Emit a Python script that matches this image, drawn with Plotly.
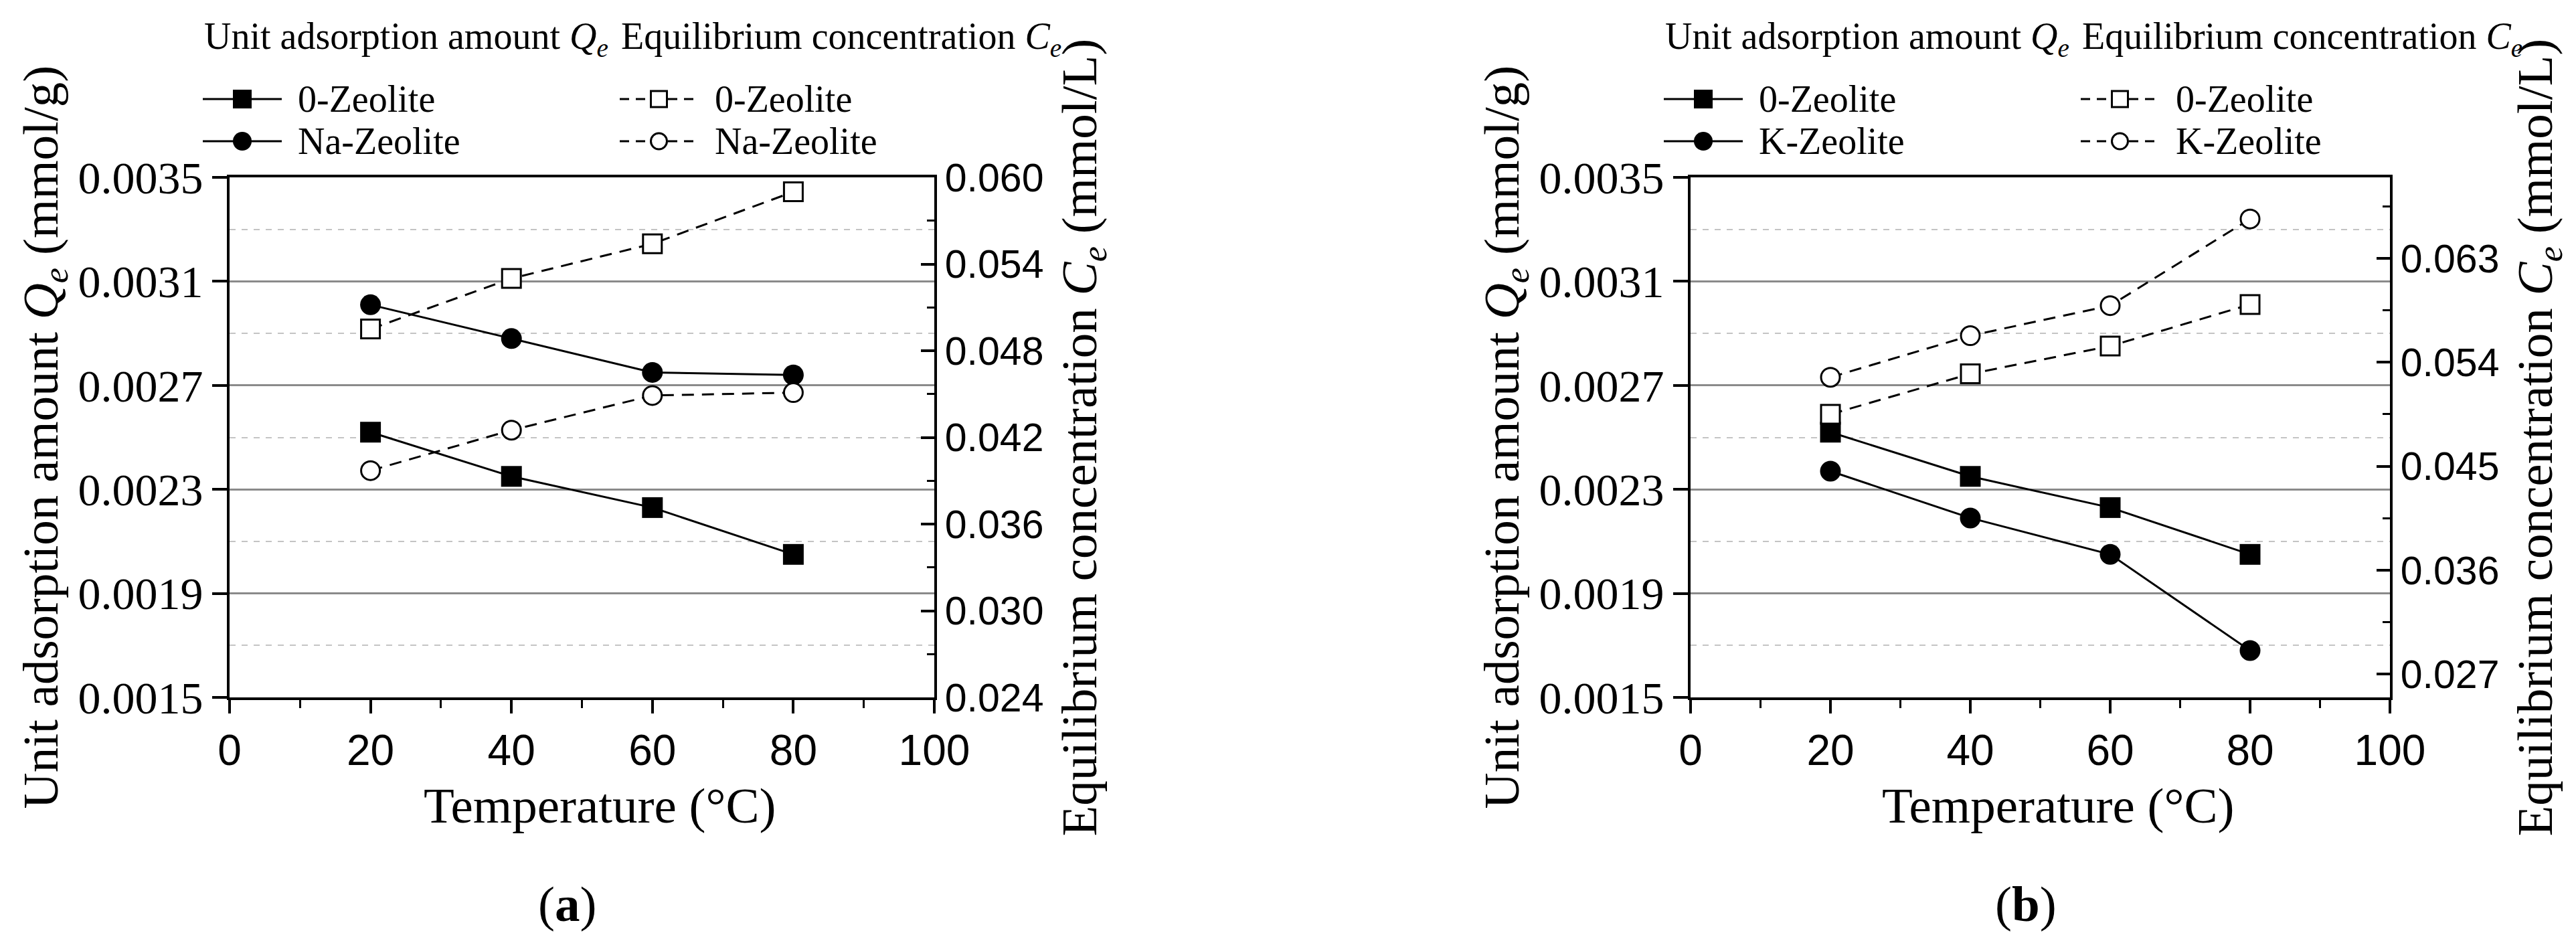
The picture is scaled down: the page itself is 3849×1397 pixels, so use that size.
import plotly.graph_objects as go

W, H = 3849, 1397

# shared x values
temperature = [20, 40, 60, 80]

# panel (a): 0-Zeolite vs Na-Zeolite
qe_zeolite0 = [0.00252, 0.00235, 0.00223, 0.00205]
qe_na = [0.00301, 0.00288, 0.00275, 0.00274]
ce_zeolite0 = [0.0495, 0.0530, 0.0554, 0.0590]
ce_na = [0.0397, 0.0425, 0.0449, 0.0451]

# panel (b): 0-Zeolite vs K-Zeolite
qe_k = [0.00237, 0.00219, 0.00205, 0.00168]
ce_k = [0.0527, 0.0563, 0.0589, 0.0664]

x_ticks = [0, 20, 40, 60, 80, 100]
qe_ticks = [0.0015, 0.0019, 0.0023, 0.0027, 0.0031, 0.0035]
ce_ticks_a = [0.024, 0.030, 0.036, 0.042, 0.048, 0.054, 0.060]
ce_ticks_b = [0.027, 0.036, 0.045, 0.054, 0.063]

SERIF = "Liberation Serif"
SANS = "Liberation Sans"

PLOT_TOP, PLOT_BOTTOM = 257, 1034


def px(x):
    return x / W


def py(y):
    return 1 - y / H


def x_axis(left, right):
    return dict(
        domain=[px(left), px(right)], range=[0, 100], automargin=False,
        tickmode="array", tickvals=x_ticks,
        ticks="outside", ticklen=20, tickwidth=4, tickcolor="black",
        showline=True, linewidth=4, linecolor="black", mirror=True,
        showgrid=False, zeroline=False,
        tickfont=dict(family=SANS, size=64, color="black"),
        minor=dict(tickmode="linear", tick0=0, dtick=10, ticks="outside",
                   ticklen=12, tickwidth=3, tickcolor="black"),
    )


def qe_axis(anchor):
    return dict(
        domain=[py(PLOT_BOTTOM), py(PLOT_TOP)], anchor=anchor, automargin=False,
        range=[0.0015, 0.0035], tickmode="array", tickvals=qe_ticks,
        tickformat=".4f",
        ticks="outside", ticklen=22, tickwidth=4, tickcolor="black",
        showline=True, linewidth=4, linecolor="black", mirror=True,
        showgrid=True, gridcolor="#8a8a8a", gridwidth=2.5, zeroline=False,
        tickfont=dict(family=SERIF, size=68, color="black"),
        minor=dict(tickmode="linear", tick0=0.0017, dtick=0.0004, ticks="",
                   showgrid=True, gridcolor="#c4c4c4", gridwidth=2, griddash="dash"),
    )


def ce_axis(overlay, anchor, rng, vals, minor0, step):
    return dict(
        overlaying=overlay, anchor=anchor, side="right", automargin=False,
        range=rng, tickmode="array", tickvals=vals, tickformat=".3f",
        ticks="inside", ticklen=20, tickwidth=4, tickcolor="black",
        showline=True, linewidth=4, linecolor="black",
        showgrid=False, zeroline=False,
        tickfont=dict(family=SANS, size=59, color="black"),
        minor=dict(tickmode="linear", tick0=minor0, dtick=step, ticks="inside",
                   ticklen=11, tickwidth=3, tickcolor="black"),
    )


def add_series(fig, y, xa, ya, symbol, filled):
    fig.add_trace(go.Scatter(
        x=temperature, y=y, xaxis=xa, yaxis=ya, mode="lines+markers",
        line=dict(color="black", width=3, dash="solid" if filled else "18px,12px"),
        marker=dict(symbol=symbol, size=31 if filled else 28,
                    color="black" if filled else "white",
                    line=dict(color="black", width=0 if filled else 3)),
        showlegend=False,
    ))


fig = go.Figure()

panels = [
    dict(left=335, right=1388, xa="x", ya="y", ya2="y2", ion="Na-Zeolite",
         qe=qe_na, ce=ce_na, tag="a"),
    dict(left=2518, right=3563, xa="x2", ya="y3", ya2="y4", ion="K-Zeolite",
         qe=qe_k, ce=ce_k, tag="b"),
]

for p in panels:
    add_series(fig, qe_zeolite0, p["xa"], p["ya"], "square", True)
    add_series(fig, p["qe"], p["xa"], p["ya"], "circle", True)
    add_series(fig, ce_zeolite0, p["xa"], p["ya2"], "square", False)
    add_series(fig, p["ce"], p["xa"], p["ya2"], "circle", False)

annotations = []
shapes = []


def text(x, y, s, size, anchor="left", angle=0):
    annotations.append(dict(
        x=px(x), y=py(y), xref="paper", yref="paper", text=s, showarrow=False,
        xanchor=anchor, yanchor="middle", textangle=angle,
        font=dict(family=SERIF, size=size, color="black"),
    ))


def legend_key(x0, x1, y, symbol, filled):
    shapes.append(dict(type="line", xref="paper", yref="paper",
                       x0=px(x0), x1=px(x1), y0=py(y), y1=py(y),
                       line=dict(color="black", width=3,
                                 dash="solid" if filled else "14px,10px")))
    r = 14 if filled else 12
    xc = (x0 + x1) / 2
    shapes.append(dict(type="rect" if symbol == "square" else "circle",
                       xref="paper", yref="paper",
                       x0=px(xc - r), x1=px(xc + r), y0=py(y + r), y1=py(y - r),
                       fillcolor="black" if filled else "white",
                       line=dict(color="black", width=0 if filled else 3)))


for p in panels:
    L, R = p["left"], p["right"]
    mid_y = (PLOT_TOP + PLOT_BOTTOM) / 2

    # legend block
    text(L - 40, 50, "Unit adsorption amount <i>Q</i><sub><i>e</i></sub>", 56)
    text(L + 583, 50, "Equilibrium concentration <i>C</i><sub><i>e</i></sub>", 56)
    for row_y, name, sym in [(140, "0-Zeolite", "square"), (203, p["ion"], "circle")]:
        legend_key(L - 40, L + 78, row_y, sym, True)
        text(L + 100, row_y, name, 56)
        legend_key(L + 583, L + 700, row_y, sym, False)
        text(L + 723, row_y, name, 56)

    # axis titles
    text(L - 277, mid_y, "Unit adsorption amount <i>Q</i><sub><i>e</i></sub> (mmol/g)",
         75, anchor="center", angle=-90)
    text(R + 222, mid_y, "Equilibrium concentration <i>C</i><sub><i>e</i></sub> (mmol/L)",
         75, anchor="center", angle=-90)
    text((L + R) / 2 + 27, 1195, "Temperature (°C)", 75, anchor="center")
    text((L + R) / 2 - 22, 1342, "(<b>%s</b>)" % p["tag"], 75, anchor="center")

fig.update_layout(
    template="none",
    width=W, height=H,
    margin=dict(l=0, r=0, t=0, b=0, pad=0, autoexpand=False),
    paper_bgcolor="white", plot_bgcolor="white",
    showlegend=False,
    xaxis=x_axis(335, 1388),
    xaxis2=x_axis(2518, 3563),
    yaxis=qe_axis("x"),
    yaxis2=ce_axis("y", "x", [0.024, 0.060], ce_ticks_a, 0.027, 0.006),
    yaxis3=qe_axis("x2"),
    yaxis4=ce_axis("y3", "x2", [0.025, 0.070], ce_ticks_b, 0.0315, 0.009),
    annotations=annotations,
    shapes=shapes,
)
fig.update_layout(xaxis2_anchor="y3", xaxis_anchor="y")

fig.write_html("out.html")
